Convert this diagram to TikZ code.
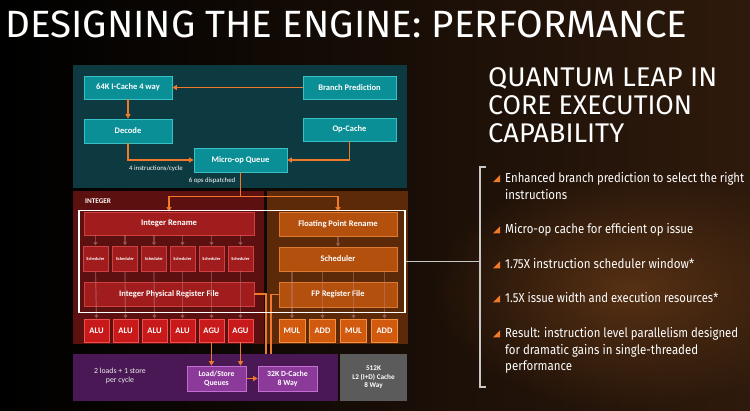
\documentclass[tikz,border=0pt]{standalone}
\usepackage{graphicx}
\usepackage{fontspec}
\setmainfont{Carlito}
\newfontfamily\hfont{Fira Sans}
\usetikzlibrary{arrows.meta,fadings,calc}
\tikzfading[name=myglow, inner color=transparent!0, outer color=transparent!100]
\definecolor{bgbrown}{HTML}{2E1A0C}
\definecolor{glow}{HTML}{6B3C18}
\definecolor{tealbg}{HTML}{0D3A40}
\definecolor{tealbox}{HTML}{0B8F96}
\definecolor{tealedge}{HTML}{38C2C6}
\definecolor{redbg}{HTML}{5C1010}
\definecolor{redbox}{HTML}{A11D1D}
\definecolor{rededge}{HTML}{CF4040}
\definecolor{alubox}{HTML}{C81A1A}
\definecolor{aluedge}{HTML}{F05050}
\definecolor{fpbg}{HTML}{5C2A09}
\definecolor{fpbox}{HTML}{B4500E}
\definecolor{fpedge}{HTML}{DC7A30}
\definecolor{mulbox}{HTML}{D15A0F}
\definecolor{muledge}{HTML}{F59040}
\definecolor{purplebg}{HTML}{4A1955}
\definecolor{purplebox}{HTML}{8B3A99}
\definecolor{purpleedge}{HTML}{C46ED4}
\definecolor{ltwo}{HTML}{5B5B5B}
\definecolor{oline}{HTML}{F07A2A}
\definecolor{gline}{HTML}{C08080}
\definecolor{brk}{HTML}{C8C8C8}
\tikzset{
  box/.style={draw, line width=0.8pt, inner sep=0pt, text=white, align=center,
    font=\bfseries\fontsize{8.5}{9.5}\selectfont},
  tbox/.style={box, fill=tealbox, draw=tealedge},
  rbox/.style={box, fill=redbox, draw=rededge},
  abox/.style={box, fill=alubox, draw=aluedge, minimum width=25pt, minimum height=23pt},
  schbox/.style={box, fill=redbox, draw=rededge, minimum width=25pt, minimum height=25pt,
    font=\bfseries\fontsize{4.4}{5}\selectfont},
  fbox/.style={box, fill=fpbox, draw=fpedge, minimum width=118pt, minimum height=24pt},
  mbox/.style={box, fill=mulbox, draw=muledge, minimum width=26pt, minimum height=23pt},
  pbox/.style={box, fill=purplebox, draw=purpleedge, minimum width=59pt, minimum height=25pt,
    font=\bfseries\fontsize{7.8}{8.8}\selectfont},
  region/.style={inner sep=0pt, anchor=north west},
  oarrow/.style={draw=oline, line width=1.4pt, -{Triangle[length=4.5pt,width=5pt]}},
  oplain/.style={draw=oline, line width=1.4pt},
  garrow/.style={draw=gline, line width=1.2pt, opacity=0.45, -{Triangle[length=3.5pt,width=4pt]}},
  small/.style={inner sep=0pt, text=white, font=\fontsize{6.8}{7.8}\selectfont},
  bullet/.style={anchor=base west, inner sep=0pt, text=white, font=\hfont\fontsize{13}{13}\selectfont},
  head/.style={anchor=base west, inner sep=0pt, text=white, font=\hfont\fontsize{27}{27}\selectfont},
}
\begin{document}
\begin{tikzpicture}[x=1pt,y=-1pt]
\useasboundingbox (0,0) rectangle (750,410);
% background
\shade[left color=black, right color=bgbrown] (0,0) rectangle (750,410);
\fill[glow, path fading=myglow, opacity=0.7] (630,290) ellipse (200 and 120);
% title
\node[anchor=base west, inner sep=0pt, text=white, font=\hfont\fontsize{38}{38}\selectfont] (title) at (5,37)
  {\resizebox{682pt}{\height}{DESIGNING THE ENGINE: PERFORMANCE}};
% regions
\node[region, fill=tealbg, minimum width=334pt, minimum height=123pt] (front) at (73,65) {};
\node[region, fill=redbg, minimum width=191pt, minimum height=153pt] (intreg) at (73,191) {};
\node[region, fill=fpbg, minimum width=141pt, minimum height=153pt] (fpreg) at (267,191) {};
\node[region, fill=purplebg, minimum width=265pt, minimum height=47pt] (lsreg) at (73,354) {};
\node[region, fill=ltwo, minimum width=67pt, minimum height=47pt] (l2reg) at (340,354) {};
% front end
\node[tbox, minimum width=88pt, minimum height=23pt] (ic) at (128,87.5) {64K I-Cache 4 way};
\node[tbox, minimum width=93pt, minimum height=23pt] (bp) at (349.5,87.5) {Branch Prediction};
\node[tbox, minimum width=88pt, minimum height=24pt] (dec) at (128,131) {Decode};
\node[tbox, minimum width=93pt, minimum height=23pt] (opc) at (349.5,129.5) {Op-Cache};
\node[tbox, minimum width=93pt, minimum height=24pt] (mq) at (240.5,160) {Micro-op Queue};
\node[small] (ipc) at (156,169) {4 instructions/cycle};
\node[small] (dsp) at (212,181) {6 ops dispatched};
\draw[oarrow] (bp.west) -- (ic.east);
\draw[oarrow] (ic.south) -- (dec.north);
\draw[oarrow] (dec.south) |- (mq.west);
\draw[oarrow] (opc.south) |- (mq.east);
% integer
\node[anchor=west, inner sep=0pt, text=white, font=\bfseries\fontsize{7.2}{8}\selectfont] (intlbl) at (85,201) {INTEGER};
\node[rbox, minimum width=170pt, minimum height=23pt] (irn) at (169,223.5) {Integer Rename};
\foreach \i/\x in {1/95.5,2/125,3/154,4/182.5,5/211.5,6/240.5}{
  \node[schbox] (s\i) at (\x,258.5) {Scheduler};
}
\node[rbox, minimum width=170pt, minimum height=24pt] (irf) at (169,294) {Integer Physical Register File};
\foreach \i/\x/\t in {1/96.5/ALU,2/125.5/ALU,3/154.5/ALU,4/182.5/ALU,5/211.5/AGU,6/240.5/AGU}{
  \node[abox] (a\i) at (\x,330.5) {\t};
}
\foreach \i in {1,...,6}{
  \draw[garrow] (irn.south -| s\i.north) -- (s\i.north);
  \draw[garrow] (s\i.south) -- (a\i.north);
}
% floating point
\node[fbox] (frn) at (338,224) {Floating Point Rename};
\node[fbox] (fsch) at (338,259) {Scheduler};
\node[fbox, minimum height=25pt] (frf) at (338,294.5) {FP Register File};
\foreach \i/\x/\t in {1/292/MUL,2/322.5/ADD,3/353.5/MUL,4/384.5/ADD}{
  \node[mbox] (m\i) at (\x,330.5) {\t};
  \draw[garrow] (fsch.south -| m\i.north) -- (m\i.north);
}
\draw[garrow] (frn.south) -- (fsch.north);
% dispatch
\draw[oplain] (mq.south) -- ++(0,24) coordinate (split);
\draw[oarrow] (split) -| (irn.north);
\draw[oarrow] (split) -| (frn.north);
% load/store
\node[align=center, inner sep=0pt, text=white!85!gray, font=\fontsize{7.8}{9.3}\selectfont] (lsn) at (120,376) {2 loads + 1 store\\per cycle};
\node[pbox] (lsq) at (216.5,378.5) {Load/Store\\Queues};
\node[pbox] (dc) at (287.5,378.5) {32K D-Cache\\8 Way};
\node[align=center, inner sep=0pt, text=white, font=\bfseries\fontsize{7.2}{8.6}\selectfont] (l2) at (373.5,377.5) {512K\\L2 (I+D) Cache\\8 Way};
\draw[oarrow] (a5.south) -- (lsq.north -| a5.south);
\draw[oarrow] (a6.south) -- (lsq.north -| a6.south);
\draw[oarrow] (lsq.east) -- (dc.west);
\coordinate (j1) at (266,354);
\coordinate (j2) at (271,354);
\draw[oplain] (irf.east) -| (j1);
\draw[oplain] (frf.west) -| (j2);
% selection outline and bracket
\node[draw=white, line width=1.5pt, minimum width=326pt, minimum height=102pt, inner sep=0pt] (sel) at (242,261.5) {};
\coordinate (bt) at (486,167);
\coordinate (bb) at (486,387);
\coordinate (bm) at (480,261.5);
\draw[brk, line width=1.2pt] (bt) -- (480,167) -- (480,387) -- (bb);
\draw[brk, line width=1.2pt] (sel.east) -- (bm);
% heading
\node[head] (h1) at (488,86) {\resizebox{229pt}{\height}{QUANTUM LEAP IN}};
\node[head] (h2) at (488,114.3) {\resizebox{204pt}{\height}{CORE EXECUTION}};
\node[head] (h3) at (488,142) {\resizebox{136pt}{\height}{CAPABILITY}};
% bullets
\node[bullet] (b1) at (505,182) {\resizebox{239pt}{\height}{Enhanced branch prediction to select the right}};
\node[bullet] (b1b) at (505,199) {\resizebox{62pt}{\height}{instructions}};
\node[bullet] (b2) at (505,233.3) {\resizebox{188pt}{\height}{Micro-op cache for efficient op issue}};
\node[bullet] (b3) at (505,268.3) {\resizebox{189pt}{\height}{1.75X instruction scheduler window*}};
\node[bullet] (b4) at (505,302.3) {\resizebox{213pt}{\height}{1.5X issue width and execution resources*}};
\node[bullet] (b5) at (505,337.3) {\resizebox{233pt}{\height}{Result: instruction level parallelism designed}};
\node[bullet] (b5b) at (505,354) {\resizebox{193pt}{\height}{for dramatic gains in single-threaded}};
\node[bullet] (b5c) at (505,370.7) {\resizebox{67pt}{\height}{performance}};
\foreach \b in {b1,b2,b3,b4,b5}{
  \fill[oline] ($(\b.base west)+(-12,0)$) -- ++(7,0) -- ++(0,-7) -- cycle;
}
\end{tikzpicture}
\end{document}
